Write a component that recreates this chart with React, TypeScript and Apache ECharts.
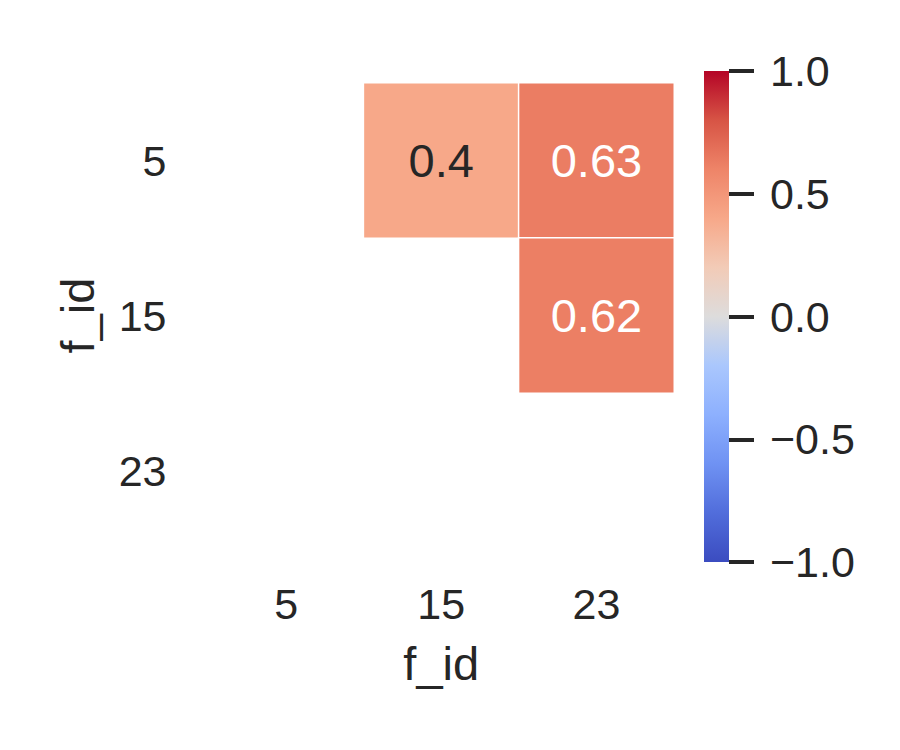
import React, { useEffect, useRef } from "react";
import * as echarts from "echarts";

const xCategories = ["5", "15", "23"];
const yCategories = ["5", "15", "23"];
// [column index, row index, correlation] — lower triangle + diagonal masked
const cellValues: [number, number, number][] = [
  [1, 0, 0.4],
  [2, 0, 0.63],
  [2, 1, 0.62],
];
const colorbarTicks = [-1, -0.5, 0, 0.5, 1];
const coolwarm = [
  "#3b4cc0",
  "#516ddb",
  "#6f92f3",
  "#8db0fe",
  "#aac7fd",
  "#dddcdc",
  "#f2cbb7",
  "#f7a889",
  "#ee8468",
  "#d75445",
  "#b40426",
];

const FONT = "'Liberation Sans', Arial, sans-serif";
const TEXT = "#262626";

export default function App() {
  const ref = useRef<HTMLDivElement>(null);
  useEffect(() => {
    if (!ref.current) return;
    const chart = echarts.init(ref.current, undefined, { renderer: "svg" });
    const gridLeft = 208.5;
    const gridTop = 83;
    const gridW = 465.5;
    const gridH = 465;
    const cbLeft = 704;
    const cbTop = 71;
    const cbW = 25;
    const cbH = 491;
    const stops = coolwarm
      .map((c, i) => ({ offset: 1 - i / (coolwarm.length - 1), color: c }))
      .reverse();
    chart.setOption({
      animation: false,
      backgroundColor: "#ffffff",
      textStyle: { fontFamily: FONT, color: TEXT },
      grid: [
        { left: gridLeft, top: gridTop, width: gridW, height: gridH },
        { left: cbLeft, top: cbTop, width: cbW, height: cbH },
      ],
      xAxis: [
        {
          type: "category",
          gridIndex: 0,
          data: xCategories,
          name: "f_id",
          nameLocation: "middle",
          nameGap: 92,
          nameTextStyle: { fontSize: 47, color: TEXT, fontFamily: FONT },
          axisLine: { show: false },
          axisTick: { show: false },
          splitLine: { show: false },
          axisLabel: { fontSize: 43, color: TEXT, margin: 34, fontFamily: FONT },
        },
        {
          type: "value",
          gridIndex: 1,
          show: false,
          min: 0,
          max: 1,
        },
      ],
      yAxis: [
        {
          type: "category",
          gridIndex: 0,
          data: yCategories,
          inverse: true,
          name: "f_id",
          nameLocation: "middle",
          nameGap: 108,
          nameTextStyle: { fontSize: 47, color: TEXT, fontFamily: FONT },
          axisLine: { show: false },
          axisTick: { show: false },
          splitLine: { show: false },
          axisLabel: {
            fontSize: 43,
            color: TEXT,
            margin: 42,
            fontFamily: FONT,
            padding: [0, 0, 5, 0],
          },
        },
        {
          type: "value",
          gridIndex: 1,
          position: "right",
          min: -1,
          max: 1,
          interval: 0.5,
          axisLine: { show: false, onZero: false },
          splitLine: { show: false },
          axisTick: {
            show: true,
            inside: false,
            length: 25,
            lineStyle: { width: 4, color: TEXT },
          },
          axisLabel: {
            fontSize: 43,
            color: TEXT,
            margin: 41,
            fontFamily: FONT,
            formatter: (v: number) =>
              (v < 0 ? "\u2212" : "") + Math.abs(v).toFixed(1),
          },
        },
      ],
      visualMap: {
        show: false,
        type: "continuous",
        min: colorbarTicks[0],
        max: colorbarTicks[colorbarTicks.length - 1],
        seriesIndex: 0,
        inRange: { color: coolwarm },
      },
      graphic: [
        {
          type: "rect",
          shape: { x: cbLeft, y: cbTop, width: cbW, height: cbH },
          style: {
            fill: new echarts.graphic.LinearGradient(0, 0, 0, 1, stops),
          },
          z: -1,
        },
      ],
      series: [
        {
          type: "heatmap",
          xAxisIndex: 0,
          yAxisIndex: 0,
          data: cellValues.map((d) => ({
            value: d,
            label: { color: Math.abs(d[2]) >= 0.5 ? "#ffffff" : TEXT },
          })),
          label: {
            show: true,
            fontSize: 47,
            fontFamily: FONT,
            padding: [0, 0, 5, 0],
            formatter: (p: any) => String(p.value[2]),
          },
          itemStyle: { borderColor: "#ffffff", borderWidth: 1.5 },
          emphasis: { disabled: true },
        },
      ],
    });
    return () => chart.dispose();
  }, []);
  return (
    <div
      ref={ref}
      style={{ position: "absolute", left: 0, top: 0, width: 900, height: 750 }}
    />
  );
}
